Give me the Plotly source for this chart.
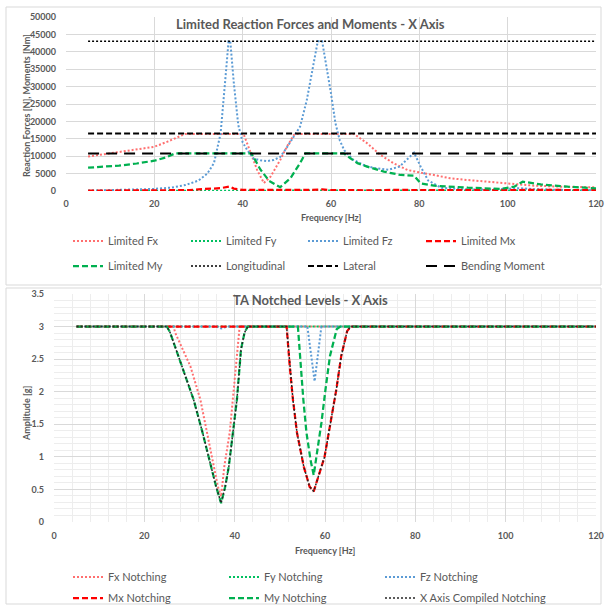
import plotly.graph_objects as go

# ---------------- Top chart data (Limited reaction forces / moments) ----------------
freq_fx = [5, 10, 15, 20, 23, 26, 27, 40.2, 41.7, 43.3, 44.8, 46.3, 48.5, 50, 51.6, 52,
           65.2, 68.2, 71.2, 74.2, 77.3, 79.6, 81, 83.3, 87, 90.9, 95, 98.5, 106, 113, 120]
lim_fx = [9900, 10900, 11800, 12700, 14200, 15900, 16400, 16400, 11500, 6000, 2300, 4100, 8900, 12700, 16100, 16400,
          16400, 13700, 10350, 7950, 6040, 5370, 5090, 4600, 3650, 3160, 2700, 2200, 1530, 1200, 1060]

freq_fy = [5, 20, 40, 60, 80, 100, 120]
lim_fy = [100, 120, 150, 150, 150, 150, 120]

freq_fz = [5, 10, 15, 20, 24, 27, 30, 32, 33.5, 35, 36, 36.8, 37.2, 38, 39, 40, 41, 42.5, 44, 45.5,
           47, 48.5, 50, 51.5, 53, 54.5, 55.5, 56.5, 57, 58, 59, 60, 61, 62, 63, 65, 68, 70, 73,
           75.5, 77, 78.8, 80.3, 82, 85, 90, 95, 100, 103, 106, 110, 115, 120]
lim_fz = [100, 200, 350, 600, 1000, 1700, 3000, 5000, 8000, 16500, 31000, 43000, 43000, 31000, 19000, 14000, 11800, 9300, 8800, 8600,
          8900, 9800, 12500, 15500, 18500, 26000, 33000, 40000, 43000, 43000, 36000, 28000, 19500, 14500, 11700, 9000, 7100, 6600, 6100,
          7000, 8800, 11000, 7000, 3000, 900, 500, 400, 600, 800, 500, 300, 250, 200]

freq_mx = [5, 20, 28, 30, 33, 35, 37, 38, 40, 45, 55, 58, 60, 70, 75, 80, 90, 100, 110, 120]
lim_mx = [100, 150, 250, 500, 600, 800, 1300, 700, 300, 250, 300, 450, 250, 200, 350, 250, 300, 400, 300, 250]

freq_my = [5, 8, 12, 16, 20, 22.5, 24.7, 42, 44, 46, 48.5, 50.8, 53, 54.2, 62.9, 64.4, 66, 68.2, 72,
           75.8, 78.8, 80.3, 83.3, 91, 98.5, 101.5, 103.4, 107.5, 113.6, 120]
lim_my = [6700, 6900, 7300, 7900, 8700, 9600, 10800, 10800, 6200, 2900, 1100, 3650, 8000, 10800, 10800, 9400, 8000, 7000, 5550,
          4600, 4400, 2200, 1530, 950, 600, 1240, 2670, 1920, 1240, 770]

freq_limits = [5, 120]
longitudinal = [43000, 43000]
lateral = [16500, 16500]
bending = [10800, 10800]

# ---------------- Bottom chart data (TA notched levels) ----------------
freq_fxn = [5, 26.5, 26.8, 30.2, 32.4, 33.9, 35.3, 36.3, 37.0, 37.7, 38.9, 39.6, 40.2, 40.9, 41.1, 120]
fx_notch = [3, 3, 2.91, 2.39, 1.88, 1.37, 0.85, 0.54, 0.39, 0.85, 1.37, 1.88, 2.39, 2.91, 3, 3]

freq_fyn = [5, 120]
fy_notch = [3, 3]

freq_fzn = [5, 36.1, 37.0, 38.3, 56.1, 57.7, 59.2, 120]
fz_notch = [3, 3, 2.97, 3, 3, 2.16, 3, 3]

freq_mxn = [5, 51.5, 52.2, 52.9, 53.8, 55.3, 56.6, 57.5, 59.9, 61.2, 62.5, 63.6, 64.9, 65.7, 120]
mx_notch = [3, 3, 2.39, 1.88, 1.37, 0.85, 0.54, 0.47, 1.0, 1.52, 2.03, 2.55, 2.93, 3, 3]

freq_myn = [5, 25, 25.7, 28.3, 30.9, 32.9, 34.8, 35.9, 37.0, 37.9, 38.7, 39.6, 40.5, 41.1, 41.4, 42.2, 42.9,
            54.0, 54.6, 55.2, 55.9, 56.8, 57.5, 59.2, 60.1, 61.1, 62.6, 63.4, 120]
my_notch = [3, 3, 2.91, 2.39, 1.88, 1.37, 0.85, 0.54, 0.29, 0.54, 0.85, 1.37, 1.88, 2.39, 2.65, 2.91, 3,
            3, 2.39, 1.88, 1.37, 0.95, 0.72, 1.52, 2.03, 2.55, 2.96, 3, 3]

freq_comp = [5, 25, 25.7, 28.3, 30.9, 32.9, 34.8, 35.9, 37.0, 37.9, 38.7, 39.6, 40.5, 41.1, 41.4, 42.2, 42.9,
             51.5, 52.2, 52.9, 53.8, 55.3, 56.6, 57.5, 59.9, 61.2, 62.5, 63.6, 64.9, 65.7, 120]
comp_notch = [3, 3, 2.91, 2.39, 1.88, 1.37, 0.85, 0.54, 0.29, 0.54, 0.85, 1.37, 1.88, 2.39, 2.65, 2.91, 3,
              3, 2.39, 1.88, 1.37, 0.85, 0.54, 0.47, 1.0, 1.52, 2.03, 2.55, 2.93, 3, 3]

x_ticks = [0, 20, 40, 60, 80, 100, 120]

# ---------------- Styling ----------------
W = H = 607
FONT = "Lato"
GRAY = "#595959"
GRID = "#D9D9D9"
LRED = "#FF6F6F"
RED = "#FF0000"
GREEN = "#00B050"
LGREEN = "#00C060"
BLUE = "#5B9BD5"
DOT = "2px,2px"
DASH = "6px,3px"
LONG = "11px,7px"

def px_x(p):
    return p / W

def px_y(p):
    return 1 - p / H

fig = go.Figure()
legend_layout = {}
legfont = dict(family="Lato", size=11, color=GRAY)

def add(x, y, name, color, dash, width, axis, text_x, row_y):
    idx = len(fig.data) + 1
    lname = "legend" if idx == 1 else "legend%d" % idx
    fig.add_trace(go.Scatter(
        x=x, y=y, name=name, mode="lines",
        line=dict(color=color, dash=dash, width=width),
        xaxis="x" if axis == 1 else "x2", yaxis="y" if axis == 1 else "y2",
        legend=lname, hoverinfo="skip"))
    legend_layout[lname] = dict(orientation="h", x=px_x(text_x - 41), y=px_y(row_y),
                                xanchor="left", yanchor="middle", font=legfont,
                                bgcolor="rgba(0,0,0,0)")

# top chart traces
add(freq_fx, lim_fx, "Limited Fx", LRED, DOT, 2, 1, 109, 241)
add(freq_fy, lim_fy, "Limited Fy", LGREEN, DOT, 2, 1, 227, 241)
add(freq_fz, lim_fz, "Limited Fz", BLUE, DOT, 2, 1, 344, 241)
add(freq_mx, lim_mx, "Limited Mx", RED, DASH, 2.25, 1, 462, 241)
add(freq_my, lim_my, "Limited My", GREEN, DASH, 2.25, 1, 109, 266)
add(freq_limits, longitudinal, "Longitudinal", "#000000", DOT, 1.5, 1, 227, 266)
add(freq_limits, lateral, "Lateral", "#000000", DASH, 2, 1, 344, 266)
add(freq_limits, bending, "Bending Moment", "#000000", LONG, 2, 1, 462, 266)

# bottom chart traces
add(freq_fxn, fx_notch, "Fx Notching", LRED, DOT, 2, 2, 109, 577)
add(freq_fyn, fy_notch, "Fy Notching", LGREEN, DOT, 2, 2, 265, 577)
add(freq_fzn, fz_notch, "Fz Notching", BLUE, DOT, 2, 2, 421, 577)
add(freq_mxn, mx_notch, "Mx Notching", RED, DASH, 2.25, 2, 109, 598)
add(freq_myn, my_notch, "My Notching", GREEN, DASH, 2.25, 2, 265, 598)
add(freq_comp, comp_notch, "X Axis Compiled Notching", "#262626", DOT, 1.5, 2, 421, 598)

tickfont = dict(family=FONT, size=9, color=GRAY, weight="bold")

axis_common = dict(showgrid=True, gridcolor=GRID, gridwidth=1, zeroline=False, showline=False,
                   ticks="", tickfont=tickfont, ticklabeloverflow="allow", automargin=False)

fig.update_layout(
    width=W, height=H,
    margin=dict(l=0, r=0, t=0, b=0, autoexpand=False),
    paper_bgcolor="white", plot_bgcolor="white",
    font=dict(family=FONT, color=GRAY),
    xaxis=dict(domain=[px_x(66), px_x(596)], range=[0, 120], tickvals=x_ticks, anchor="y",
               ticklabelstandoff=6, **axis_common),
    yaxis=dict(domain=[px_y(191), px_y(17)], range=[0, 50000], dtick=5000, tickformat="d", anchor="x",
               ticklabelstandoff=9, **axis_common),
    xaxis2=dict(domain=[px_x(54), px_x(596)], range=[0, 120], tickvals=x_ticks, anchor="y2",
                minor=dict(dtick=4, showgrid=True, gridcolor="#EDEDED", gridwidth=1),
                ticklabelstandoff=7, **axis_common),
    yaxis2=dict(domain=[px_y(522), px_y(294)], range=[0, 3.5], dtick=0.5, anchor="x2",
                minor=dict(dtick=0.1, showgrid=True, gridcolor="#EDEDED", gridwidth=1),
                ticklabelstandoff=9, **axis_common),
    showlegend=True,
    **legend_layout,
)

def note(text, xpx, ypx, size, angle=0):
    fig.add_annotation(text=text, xref="paper", yref="paper", x=px_x(xpx), y=px_y(ypx),
                       xanchor="center", yanchor="middle", showarrow=False, textangle=angle,
                       font=dict(family=FONT, size=size, color=GRAY, weight="bold"))

# chart titles and axis titles
note("Limited Reaction Forces and Moments - X Axis", 310, 24, 13)
note("TA Notched Levels - X Axis", 310, 300, 13)
note("Frequency [Hz]", 331, 217, 9)
note("Frequency [Hz]", 325, 550, 9)
note("Reaction Forces [N], Moments [Nm]", 26, 106, 9, -90)
note("Amplitude [g]", 26, 413, 9, -90)

# panel borders
fig.add_shape(type="rect", xref="paper", yref="paper", x0=px_x(6), x1=px_x(601), y0=px_y(285), y1=px_y(7),
              line=dict(color="#D9D9D9", width=1), layer="below")
fig.add_shape(type="rect", xref="paper", yref="paper", x0=px_x(6), x1=px_x(601), y0=px_y(604), y1=px_y(288),
              line=dict(color="#D9D9D9", width=1), layer="below")

fig.write_html("out.html", config={"displayModeBar": False},
               post_script="document.body.style.margin='0px';document.body.style.overflow='hidden';")
